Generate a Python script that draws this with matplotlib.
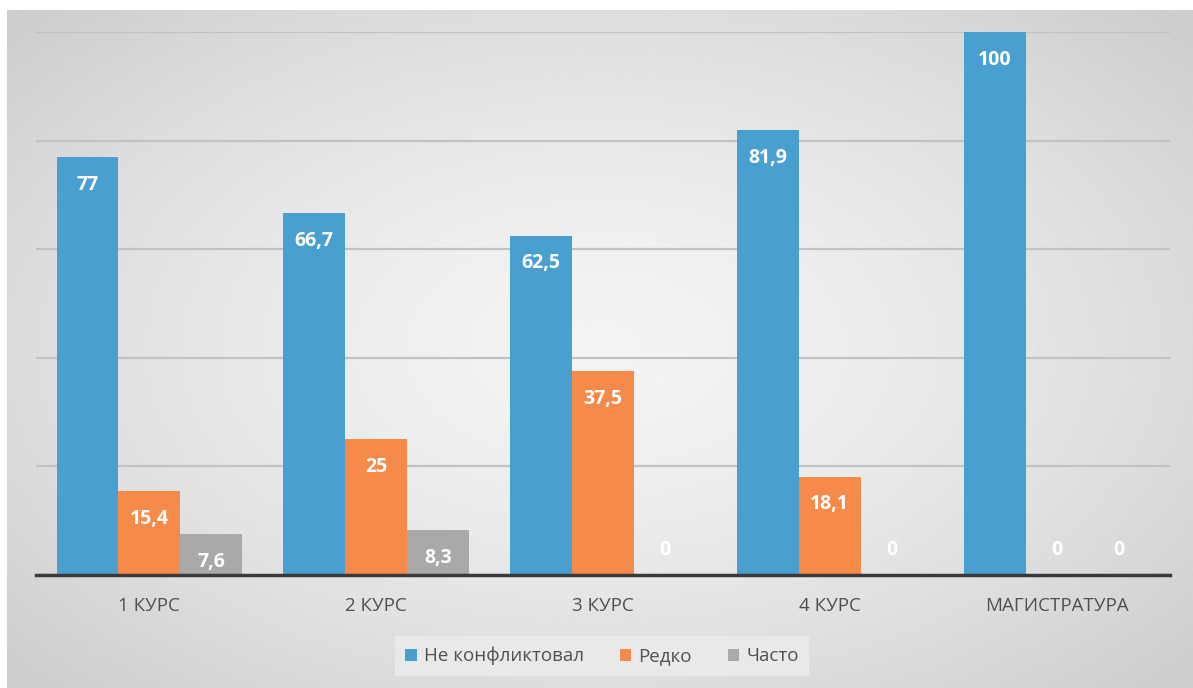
import numpy as np
import matplotlib.pyplot as plt
from matplotlib.patches import Patch

plt.rcParams['font.family'] = ['Open Sans', 'DejaVu Sans']

categories = ['1 КУРС', '2 КУРС', '3 КУРС', '4 КУРС', 'МАГИСТРАТУРА']
series_names = ['Не конфликтовал', 'Редко', 'Часто']
never = [77, 66.7, 62.5, 81.9, 100]
rarely = [15.4, 25, 37.5, 18.1, 0]
often = [7.6, 8.3, 0, 0, 0]
colors = ['#4A9FD1', '#F58A4A', '#A9A9A9']

W, H = 1193, 688
fig = plt.figure(figsize=(W / 100, H / 100), dpi=100)
fig.patch.set_facecolor('white')

# radial gradient background panel
bg = fig.add_axes([7 / W, 0, 1 - 7 / W, (H - 10) / H])
bg.set_axis_off()
yy, xx = np.mgrid[-1:1:300j, -1:1:500j]
r = np.sqrt(xx ** 2 + (yy / 1.05) ** 2)
vals = 0.955 - 0.15 * np.clip(r / 1.35, 0, 1) ** 1.5
bg.imshow(vals, cmap='gray', vmin=0, vmax=1, aspect='auto', extent=[0, 1, 0, 1])

ax = fig.add_axes([36 / W, (H - 575) / H, (1170 - 36) / W, (575 - 32) / H])
ax.set_facecolor('none')

x = np.arange(len(categories))
bw = 0.273
for i, (vals_s, c) in enumerate(zip([never, rarely, often], colors)):
    pos = x + (i - 1) * bw
    ax.bar(pos, vals_s, bw, color=c, edgecolor='none', zorder=3)
    for p, v in zip(pos, vals_s):
        txt = f'{v:g}'.replace('.', ',')
        if v == 0:
            ax.annotate(txt, (p, 0), xytext=(0, 18), textcoords='offset points',
                        ha='center', va='center', color='white',
                        fontsize=14, fontweight='bold', zorder=4)
        else:
            ax.annotate(txt, (p, v), xytext=(0, -20), textcoords='offset points',
                        ha='center', va='center', color='white',
                        fontsize=14, fontweight='bold', zorder=4)

ax.set_xlim(-0.5, len(categories) - 0.5)
ax.set_ylim(0, 100)
ax.set_yticks([20, 40, 60, 80, 100])
ax.yaxis.grid(True, color='#c2c2c2', linewidth=1.6, zorder=0)
ax.tick_params(axis='y', left=False, labelleft=False)
ax.set_xticks(x)
ax.set_xticklabels(categories, fontsize=13.5, color='#505050')
ax.tick_params(axis='x', length=0, pad=16)
for s in ['top', 'right', 'left']:
    ax.spines[s].set_visible(False)
ax.spines['bottom'].set_color('#3a3a3a')
ax.spines['bottom'].set_linewidth(2.5)
ax.spines['bottom'].set_zorder(5)

handles = [Patch(facecolor=c, edgecolor='none') for c in colors]
leg = fig.legend(handles, series_names, loc='center', bbox_to_anchor=(602 / W, (H - 656) / H),
                 ncol=3, frameon=True, fontsize=13.5, handlelength=0.6, handleheight=0.6,
                 handletextpad=0.4, columnspacing=1.9, borderpad=0.55, fancybox=False)
leg.get_frame().set_facecolor('#e9e9e9')
leg.get_frame().set_edgecolor('none')
leg.get_frame().set_alpha(1)
for t in leg.get_texts():
    t.set_color('#505050')

fig.savefig('out.png', dpi=100)
